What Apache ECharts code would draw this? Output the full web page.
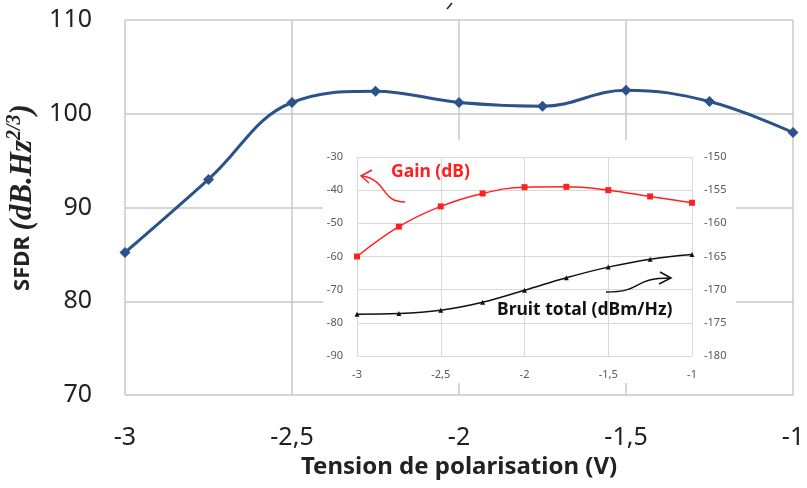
<!DOCTYPE html>
<html><head><meta charset="utf-8">
<script src="https://cdn.jsdelivr.net/npm/echarts@6/dist/echarts.min.js"></script>
<style>html,body{margin:0;padding:0;background:#fff}#c{width:807px;height:488px}</style>
</head><body><div id="c"></div>
<script>
const voltages = [-3, -2.75, -2.5, -2.25, -2, -1.75, -1.5, -1.25, -1];
const sfdr = [85.2, 93.0, 101.2, 102.4, 101.2, 100.8, 102.5, 101.3, 98.0];
const gain = [-60, -51, -44.9, -41, -39.1, -39, -40, -41.9, -43.8];
const bruit = [-173.7, -173.6, -173.1, -171.9, -170.1, -168.2, -166.6, -165.4, -164.7];
const fmt = v => String(v).replace('.', ',');
const FONT = '"Liberation Sans Narrow","Noto Sans",sans-serif';
const SERIF = '"Liberation Serif","DejaVu Serif",serif';
const pair = (xs, ys) => xs.map((x, i) => [x, ys[i]]);

const chart = echarts.init(document.getElementById('c'), null, {renderer: 'canvas'});
chart.setOption({
  animation: false,
  backgroundColor: '#fff',
  textStyle: {fontFamily: FONT},
  grid: [
    {left: 125, right: 14, top: 20, bottom: 93, outerBoundsMode: 'none', containLabel: false},
    {left: 357, right: 115, top: 157, bottom: 132, outerBoundsMode: 'none', containLabel: false}
  ],
  xAxis: [
    {gridIndex: 0, type: 'value', min: -3, max: -1, interval: 0.5, z: 0,
     axisLine: {show: false}, axisTick: {show: false},
     splitLine: {show: true, lineStyle: {color: '#c8c8c8', width: 1.5}},
     axisLabel: {fontSize: 25, color: '#222', margin: 30, formatter: fmt, fontFamily: FONT},
     name: 'Tension de polarisation (V)', nameLocation: 'middle', nameGap: 60,
     nameTextStyle: {fontSize: 24, fontWeight: 'bold', color: '#222', fontFamily: FONT}},
    {gridIndex: 1, type: 'value', min: -3, max: -1, interval: 0.5, z: 3,
     axisLine: {show: false}, axisTick: {show: false},
     splitLine: {show: true, lineStyle: {color: '#d9d9d9', width: 1}},
     axisLabel: {fontSize: 11, color: '#595959', margin: 13, formatter: fmt, fontFamily: FONT}}
  ],
  yAxis: [
    {gridIndex: 0, type: 'value', min: 70, max: 110, interval: 10, z: 0,
     axisLine: {show: false}, axisTick: {show: false},
     splitLine: {show: true, lineStyle: {color: '#c8c8c8', width: 1.5}},
     axisLabel: {fontSize: 25, color: '#222', margin: 33, fontFamily: FONT},
     name: '{b|SFDR }{i|(dB.Hz}{s|2/3}{i|)}', nameLocation: 'middle', nameGap: 76, nameRotate: 90,
     nameTextStyle: {rich: {
       b: {fontSize: 22, fontWeight: 'bold', color: '#222', fontFamily: FONT, padding: [0, 0, 0, 20]},
       i: {fontSize: 31, fontWeight: 'bold', fontStyle: 'italic', color: '#222', fontFamily: SERIF},
       s: {fontSize: 20, fontWeight: 'bold', fontStyle: 'italic', color: '#222', fontFamily: SERIF, verticalAlign: 'top', padding: [0, 0, 16, 0]}
     }}},
    {gridIndex: 1, type: 'value', min: -90, max: -30, interval: 10, z: 3,
     axisLine: {show: false}, axisTick: {show: false},
     splitLine: {show: true, lineStyle: {color: '#d9d9d9', width: 1}},
     axisLabel: {fontSize: 11, color: '#595959', margin: 14, fontFamily: FONT}},
    {gridIndex: 1, type: 'value', min: -180, max: -150, interval: 5, position: 'right', z: 3,
     axisLine: {show: false}, axisTick: {show: false}, splitLine: {show: false},
     axisLabel: {fontSize: 11, color: '#595959', margin: 12, fontFamily: FONT}}
  ],
  graphic: [
    {type: 'rect', z: 1, shape: {x: 323, y: 140, width: 413, height: 243}, style: {fill: '#fff'}},
    {type: 'text', z: 10, x: 391, y: 163, style: {text: 'Gain (dB)', fill: '#ff1f1f', fontSize: 17.5, fontWeight: 'bold', fontFamily: FONT, verticalAlign: 'top'}},
    {type: 'text', z: 10, x: 497, y: 301, style: {text: 'Bruit total (dBm/Hz)', fill: '#111', fontSize: 17.5, fontWeight: 'bold', fontFamily: FONT, verticalAlign: 'top'}},
    {type: 'bezierCurve', z: 10, shape: {x1: 405, y1: 202, cpx1: 380, cpy1: 202, cpx2: 388, cpy2: 180, x2: 362, y2: 176}, style: {stroke: '#ff1f1f', fill: null, lineWidth: 1.5}},
    {type: 'polyline', z: 10, shape: {points: [[372, 170], [361, 176], [369, 183]]}, style: {stroke: '#ff1f1f', fill: null, lineWidth: 1.5}},
    {type: 'bezierCurve', z: 10, shape: {x1: 606, y1: 292, cpx1: 645, cpy1: 292, cpx2: 630, cpy2: 278, x2: 671, y2: 278}, style: {stroke: '#111', fill: null, lineWidth: 1.5}},
    {type: 'polyline', z: 10, shape: {points: [[660, 272], [671, 278], [659, 284]]}, style: {stroke: '#111', fill: null, lineWidth: 1.5}},
    {type: 'line', z: 10, shape: {x1: 447, y1: 9, x2: 452, y2: 3}, style: {stroke: '#222', lineWidth: 1.5}}
  ],
  series: [
    {type: 'line', xAxisIndex: 0, yAxisIndex: 0, data: pair(voltages, sfdr), smooth: 0.4, z: 2,
     symbol: 'diamond', symbolSize: 11, lineStyle: {color: '#2b5389', width: 3},
     itemStyle: {color: '#2b5389'}},
    {type: 'line', xAxisIndex: 1, yAxisIndex: 1, data: pair(voltages, gain), smooth: 0.4, z: 5,
     symbol: 'rect', symbolSize: 6, lineStyle: {color: '#ff2020', width: 1.5},
     itemStyle: {color: '#ff2020'}},
    {type: 'line', xAxisIndex: 1, yAxisIndex: 2, data: pair(voltages, bruit), smooth: 0.4, z: 5,
     symbol: 'triangle', symbolSize: 5, lineStyle: {color: '#111', width: 1.5},
     itemStyle: {color: '#111'}}
  ]
});
</script></body></html>
